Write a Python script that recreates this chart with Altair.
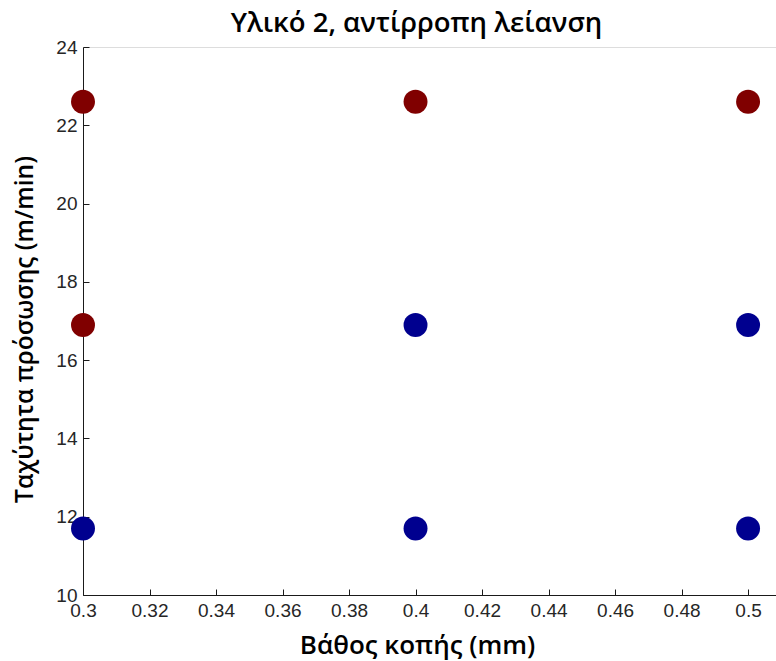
import altair as alt
import pandas as pd

# Data
depth = [0.3, 0.4, 0.5, 0.3, 0.4, 0.5, 0.3, 0.4, 0.5]
speed = [22.6, 22.6, 22.6, 16.9, 16.9, 16.9, 11.7, 11.7, 11.7]
group = ["r", "r", "r", "r", "b", "b", "b", "b", "b"]

x_ticks = [0.3, 0.32, 0.34, 0.36, 0.38, 0.4, 0.42, 0.44, 0.46, 0.48, 0.5]
y_ticks = [10, 12, 14, 16, 18, 20, 22, 24]

title_text = "Υλικό 2, αντίρροπη λείανση"
x_title = "Βάθος κοπής (mm)"
y_title = "Ταχύτητα πρόσωσης (m/min)"

df = pd.DataFrame({"depth": depth, "speed": speed, "group": group})

W, H = 693, 548
AXC = "#1a1a1a"
xscale = alt.Scale(domain=[0.3, 0.5084], nice=False, zero=False)
yscale = alt.Scale(domain=[10, 24], nice=False, zero=False)
color = alt.Color("group:N", scale=alt.Scale(domain=["r", "b"], range=["#800000", "#00008f"]), legend=None)

lab_font = "Liberation Sans"
ttl_font = "Open Sans"

base = alt.Chart(df)

pts = base.mark_circle(size=573, opacity=1).encode(
    x=alt.X("depth:Q", scale=xscale,
            axis=alt.Axis(orient="bottom", values=x_ticks, format=".2~f", ticks=False, tickSize=0,
                          grid=False, domainColor=AXC, domainWidth=1,
                          labelFont=lab_font, labelFontSize=19, labelColor="#262626", labelPadding=6,
                          labelFlush=False, labelOverlap=False,
                          title=x_title, titleFont=ttl_font, titleFontSize=26, titleFontWeight=600,
                          titleColor="#000000", titleX=334, titleY=58, titleBaseline="alphabetic",
                          titleAlign="center")),
    y=alt.Y("speed:Q", scale=yscale,
            axis=alt.Axis(orient="left", values=y_ticks, ticks=False, tickSize=0, grid=False,
                          domainColor=AXC, domainWidth=1,
                          labelFont=lab_font, labelFontSize=19, labelColor="#262626", labelPadding=6,
                          labelFlush=False, labelOverlap=False,
                          title=y_title, titleFont=ttl_font, titleFontSize=24.5, titleFontWeight=600,
                          titleColor="#000000", titleX=-51, titleY=282, titleAngle=270,
                          titleBaseline="alphabetic", titleAlign="center")),
    color=color,
)

tick_layer = base.mark_circle(size=573, opacity=0).encode(
    x=alt.X("depth:Q", scale=xscale,
            axis=alt.Axis(orient="top", offset=-H, values=x_ticks, labels=False, domain=False,
                          ticks=True, tickSize=6, tickColor=AXC, tickWidth=1, grid=False, title=None)),
    y=alt.Y("speed:Q", scale=yscale,
            axis=alt.Axis(orient="right", offset=-W, values=y_ticks, labels=False, domain=False,
                          ticks=True, tickSize=6, tickColor=AXC, tickWidth=1, grid=False, title=None)),
)

chart = alt.layer(pts, tick_layer).resolve_axis(x="independent", y="independent").properties(
    width=W, height=H,
    title=alt.TitleParams(title_text, font=ttl_font, fontSize=27.5, fontWeight=600, color="#000000",
                          anchor="middle", frame="group", offset=11, baseline="alphabetic",
                          dx=-13, dy=32),
    autosize=alt.AutoSizeParams(type="none"),
    padding={"left": 83, "top": 47, "right": 0, "bottom": 66},
).configure_view(stroke=None).configure(background="white")

chart.save("out.html", embed_options={"renderer": "svg", "actions": False})
